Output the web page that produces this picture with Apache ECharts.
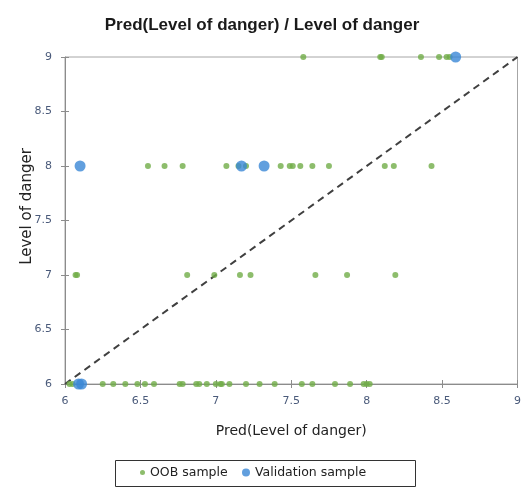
<!DOCTYPE html>
<html><head><meta charset="utf-8">
<script src="https://cdn.jsdelivr.net/npm/echarts@6/dist/echarts.min.js"></script>
<style>html,body{margin:0;padding:0;background:#fff}#c{width:524px;height:487px}</style>
</head><body><div id="c"></div>
<script>
const oobX = [7.58, 8.09, 8.10, 8.36, 8.48, 8.53, 8.55,
  6.55, 6.66, 6.78, 7.07, 7.15, 7.20, 7.43, 7.49, 7.51, 7.56, 7.64, 7.75, 8.12, 8.18, 8.43,
  6.07, 6.08, 6.81, 6.99, 7.16, 7.23, 7.66, 7.87, 8.19,
  6.03, 6.05, 6.25, 6.32, 6.40, 6.48, 6.53, 6.59, 6.76, 6.78, 6.87, 6.89, 6.94, 7.00, 7.03, 7.04, 7.09, 7.20, 7.29, 7.39, 7.57, 7.64, 7.79, 7.89, 7.98, 8.00, 8.02];
const oobY = [9, 9, 9, 9, 9, 9, 9,
  8, 8, 8, 8, 8, 8, 8, 8, 8, 8, 8, 8, 8, 8, 8,
  7, 7, 7, 7, 7, 7, 7, 7, 7,
  6, 6, 6, 6, 6, 6, 6, 6, 6, 6, 6, 6, 6, 6, 6, 6, 6, 6, 6, 6, 6, 6, 6, 6, 6, 6, 6];
const valX = [8.59, 6.10, 7.17, 7.32, 6.09, 6.11];
const valY = [9, 8, 8, 8, 6, 6];
const diagX = [6, 9];
const diagY = [6, 9];
const axisMin = 6, axisMax = 9, axisStep = 0.5;

const chart = echarts.init(document.getElementById('c'));
const tickColor = '#4a5a7a';
const axisCol = '#8c8c8c';
const labelFont = {fontFamily: 'DejaVu Sans', fontSize: 11, color: tickColor};
const nameFont = {fontFamily: 'DejaVu Sans', fontSize: 14, color: '#222'};
chart.setOption({
  animation: false,
  title: {text: 'Pred(Level of danger) / Level of danger', left: 'center', top: 12,
    textStyle: {fontFamily: 'Liberation Sans', fontWeight: 'bold', fontSize: 17, color: '#1a1a1a'}},
  grid: {left: 65, right: 6, top: 57, bottom: 103, show: true, borderColor: '#a6a6a6', borderWidth: 1},
  xAxis: [{type: 'value', min: axisMin, max: axisMax, interval: axisStep,
    name: 'Pred(Level of danger)', nameLocation: 'middle', nameGap: 40,
    nameTextStyle: nameFont,
    axisLine: {lineStyle: {color: axisCol}},
    axisTick: {show: true, inside: false, length: 4, lineStyle: {color: axisCol}},
    splitLine: {show: false},
    axisLabel: Object.assign({margin: 12}, labelFont)},
   {type: 'value', min: axisMin, max: axisMax, interval: axisStep, position: 'bottom',
    axisLine: {show: false}, axisLabel: {show: false}, splitLine: {show: false},
    axisTick: {show: true, inside: true, length: 4, lineStyle: {color: axisCol}}}],
  yAxis: [{type: 'value', min: axisMin, max: axisMax, interval: axisStep,
    name: 'Level of danger', nameLocation: 'middle', nameGap: 30, nameRotate: 90, nameMoveOverlap: false,
    nameTextStyle: Object.assign({}, nameFont, {fontSize: 15, padding: [0, 0, 0, 28]}),
    axisLine: {show: true, lineStyle: {color: axisCol}},
    axisTick: {show: true, length: 4, lineStyle: {color: axisCol}},
    splitLine: {show: false},
    axisLabel: Object.assign({margin: 13}, labelFont)},
   {type: 'value', min: axisMin, max: axisMax, interval: axisStep, position: 'left',
    axisLine: {show: false}, axisLabel: {show: false}, splitLine: {show: false},
    axisTick: {show: true, inside: true, length: 4, lineStyle: {color: axisCol}}}],
  legend: [
    {data: ['OOB sample'], left: 140, top: 466, padding: 0, itemWidth: 5, itemHeight: 5, itemGap: 0,
      textStyle: {fontFamily: 'DejaVu Sans', fontSize: 12.5, color: '#222'}},
    {data: ['Validation sample'], left: 242, top: 466, padding: 0, itemWidth: 8, itemHeight: 8, itemGap: 0,
      textStyle: {fontFamily: 'DejaVu Sans', fontSize: 12.5, color: '#222'}}
  ],
  graphic: [{type: 'rect', shape: {x: 115.5, y: 460.5, width: 300, height: 26},
    style: {fill: 'none', stroke: '#333', lineWidth: 1}, silent: true}],
  series: [
    {name: 'diag', type: 'line', data: diagX.map((x, i) => [x, diagY[i]]), symbol: 'none', silent: true,
      lineStyle: {color: '#404040', width: 2, type: [7, 5]}, z: 1},
    {name: 'OOB sample', type: 'scatter', symbol: 'circle', symbolSize: 6,
      itemStyle: {color: '#70ad47'}, data: oobX.map((x, i) => [x, oobY[i]]), z: 3},
    {name: 'Validation sample', type: 'scatter', symbol: 'circle', symbolSize: 11,
      itemStyle: {color: '#3a87d6'}, data: valX.map((x, i) => [x, valY[i]]), z: 4}
  ]
});
</script></body></html>
